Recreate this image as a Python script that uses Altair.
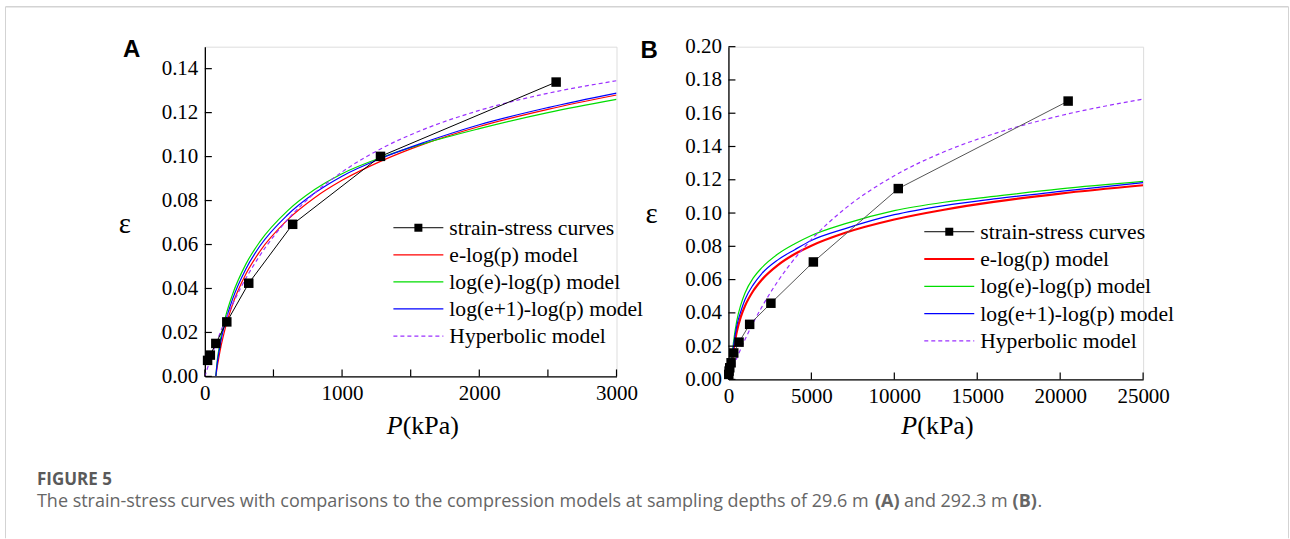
import altair as alt
import pandas as pd

# ---------------- Panel A (29.6 m) ----------------
A_p = [20, 40, 80, 160, 320, 640, 1280, 2560]
A_eps = [0.0073, 0.0097, 0.0150, 0.0248, 0.0424, 0.0692, 0.1001, 0.1339]

A_model_p = [80, 90, 100, 120, 150, 200, 300, 400, 600, 800, 1000, 1300, 1600, 2000, 2500, 3000]
A_elogp = [0, 0.0042, 0.0079, 0.0143, 0.0222, 0.0324, 0.0467, 0.0568, 0.0711, 0.0813, 0.0892, 0.0984, 0.1058, 0.1137, 0.1215, 0.1280]
A_logelogp = [0, 0.0070, 0.0115, 0.0190, 0.0270, 0.0370, 0.0512, 0.0612, 0.0752, 0.0850, 0.0922, 0.0999, 0.1060, 0.1127, 0.1200, 0.1260]
A_loge1logp = [0, 0.0058, 0.0100, 0.0170, 0.0248, 0.0348, 0.0490, 0.0592, 0.0733, 0.0834, 0.0911, 0.0996, 0.1065, 0.1145, 0.1223, 0.1289]
A_hyp_p = [0, 20, 50, 100, 200, 300, 400, 600, 800, 1000, 1300, 1600, 2000, 2500, 3000]
A_hyp = [0, 0.0039, 0.0095, 0.0180, 0.0326, 0.0447, 0.0549, 0.0711, 0.0834, 0.0930, 0.1041, 0.1125, 0.1210, 0.1288, 0.1345]

A_xticks = [0, 500, 1000, 1500, 2000, 2500, 3000]
A_xlabels = [0, 1000, 2000, 3000]
A_yticks = [0, 0.02, 0.04, 0.06, 0.08, 0.10, 0.12, 0.14]

# ---------------- Panel B (292.3 m) ----------------
B_p = [20, 40, 80, 160, 320, 640, 1280, 2560, 5120, 10240, 20480]
B_eps = [0.003, 0.005, 0.007, 0.010, 0.0159, 0.0224, 0.0331, 0.0458, 0.0706, 0.1147, 0.1673]

B_elogp_p = [141, 160, 200, 300, 500, 750, 1000, 1500, 2000, 3000, 4000, 5000, 7000, 10000, 13000, 16000, 20000, 25000]
B_elogp = [0, 0.0029, 0.0079, 0.0170, 0.0285, 0.0377, 0.0442, 0.0533, 0.0598, 0.0689, 0.0754, 0.0804, 0.0880, 0.0961, 0.1020, 0.1067, 0.1117, 0.1167]
B_logelogp_p = [120, 160, 200, 300, 500, 750, 1000, 1500, 2000, 3000, 4000, 5000, 7000, 10000, 13000, 16000, 20000, 25000]
B_logelogp = [0, 0.0075, 0.0125, 0.0220, 0.0350, 0.0450, 0.0520, 0.0610, 0.0670, 0.0755, 0.0815, 0.0865, 0.0935, 0.1015, 0.1065, 0.1100, 0.1145, 0.1190]
B_loge1logp_p = [130, 160, 200, 300, 500, 750, 1000, 1500, 2000, 3000, 4000, 5000, 7000, 10000, 13000, 16000, 20000, 25000]
B_loge1logp = [0, 0.0050, 0.0100, 0.0195, 0.0320, 0.0410, 0.0480, 0.0570, 0.0635, 0.0720, 0.0780, 0.0835, 0.0905, 0.0990, 0.1045, 0.1085, 0.1130, 0.1183]
B_hyp_p = [0, 500, 1000, 2000, 3000, 4000, 5000, 7000, 10000, 13000, 16000, 20000, 25000]
B_hyp = [0, 0.0127, 0.0240, 0.0433, 0.0593, 0.0727, 0.0841, 0.1024, 0.1224, 0.1368, 0.1476, 0.1585, 0.1685]

B_xticks = [0, 5000, 10000, 15000, 20000, 25000]
B_xlabels = [0, 5000, 10000, 15000, 20000, 25000]
B_yticks = [0, 0.02, 0.04, 0.06, 0.08, 0.10, 0.12, 0.14, 0.16, 0.18, 0.20]

LEGEND_LABELS = ["strain-stress curves", "e-log(p) model", "log(e)-log(p) model",
                 "log(e+1)-log(p) model", "Hyperbolic model"]

FIG_LABEL = "FIGURE 5"
CAPTION = ["The strain-stress curves with comparisons to the compression models at sampling depths of 29.6 m",
           "(A)", "and 292.3 m", "(B)", "."]

SERIF = "Liberation Serif"
RED, GREEN, BLUE, PURPLE = "#ff0000", "#00dd00", "#0000ff", "#9b30ff"


def txt(s, x, y, **kw):
    return alt.Chart(pd.DataFrame({"t": [s]})).mark_text(**kw).encode(
        x=alt.value(x), y=alt.value(y), text="t:N")


def panel(letter, pts_p, pts_e, curves, xdom, ydom, W, H, xticks, xlabels, yticks,
          data_color, leg, titles, extra):
    xs = alt.Scale(domain=xdom, nice=False, zero=False)
    ys = alt.Scale(domain=ydom, nice=False, zero=False)
    base_axis = dict(grid=False, ticks=False, tickSize=0, title=None, labelFont=SERIF,
                     labelFontSize=21, labelColor="black", domainColor="black",
                     domainWidth=1.3, labelOverlap=False, labelFlush=False)
    xax = alt.Axis(values=xlabels, format="d", labelPadding=6, **base_axis)
    yax = alt.Axis(values=yticks, format=".2f", labelPadding=7, **base_axis)

    def X(f):
        return alt.X(f, scale=xs, axis=xax)

    def Y(f):
        return alt.Y(f, scale=ys, axis=yax)

    layers = []
    for (px, ey, color, width, dash) in curves:
        df = pd.DataFrame({"p": px, "e": ey})
        kw = dict(color=color, strokeWidth=width, interpolate="monotone", clip=True)
        if dash:
            kw["strokeDash"] = dash
        layers.append(alt.Chart(df).mark_line(**kw).encode(x=X("p:Q"), y=Y("e:Q")))
    dpts = pd.DataFrame({"p": pts_p, "e": pts_e})
    layers.append(alt.Chart(dpts).mark_line(color=data_color, strokeWidth=1).encode(
        x=X("p:Q"), y=Y("e:Q")))
    layers.append(alt.Chart(dpts).mark_square(size=90, color="black", opacity=1).encode(
        x=X("p:Q"), y=Y("e:Q")))
    # inward ticks
    layers.append(alt.Chart(pd.DataFrame({"p": xticks})).mark_rule(color="black", strokeWidth=1.2).encode(
        x=X("p:Q"), y=alt.value(H), y2=alt.value(H - 7)))
    layers.append(alt.Chart(pd.DataFrame({"e": yticks})).mark_rule(color="black", strokeWidth=1.2).encode(
        y=Y("e:Q"), x=alt.value(0), x2=alt.value(7)))
    # legend
    lx, ly, dy = leg
    styles = [("black", 1, None), (RED, curves[0][3], None), (GREEN, 1.2, None),
              (BLUE, 1.2, None), (PURPLE, 1.2, [4, 3])]
    for i, (lab, (c, w, d)) in enumerate(zip(LEGEND_LABELS, styles)):
        y = ly + i * dy
        kw = dict(color=c, strokeWidth=w)
        if d:
            kw["strokeDash"] = d
        layers.append(alt.Chart(pd.DataFrame({"t": [lab]})).mark_rule(**kw).encode(
            x=alt.value(lx), x2=alt.value(lx + 50), y=alt.value(y)))
        if i == 0:
            layers.append(alt.Chart(pd.DataFrame({"t": [lab]})).mark_square(
                size=64, color="black", opacity=1).encode(x=alt.value(lx + 25), y=alt.value(y)))
        layers.append(txt(lab, lx + 56, y + 1, font=SERIF, fontSize=21.6, align="left",
                          baseline="middle", color="black"))
    (px0, pby), (ex, ey_), (lxl, lyl) = titles
    layers.append(txt("P", px0, pby, font=SERIF, fontSize=26, fontStyle="italic",
                      align="left", baseline="alphabetic", color="black"))
    layers.append(txt("(kPa)", px0 + 16, pby, font=SERIF, fontSize=26,
                      align="left", baseline="alphabetic", color="black"))
    layers.append(txt("ε", ex, ey_, font=SERIF, fontSize=29, align="center",
                      baseline="middle", color="black"))
    layers.append(txt(letter, lxl, lyl, font="Liberation Sans", fontSize=24, fontWeight="bold",
                      align="left", baseline="alphabetic", color="black"))
    layers.extend(extra)
    return alt.layer(*layers).properties(width=W, height=H)


frame_color = "#d3d3d3"
extra_A = [
    alt.Chart(pd.DataFrame({"t": ["frame"]})).mark_rule(color=frame_color, strokeWidth=1).encode(
        x=alt.value(-199.5), y=alt.value(-40), y2=alt.value(492)),
    alt.Chart(pd.DataFrame({"t": ["frame"]})).mark_rule(color=frame_color, strokeWidth=1).encode(
        x=alt.value(1084.5), y=alt.value(-40), y2=alt.value(492)),
    alt.Chart(pd.DataFrame({"t": ["frame"]})).mark_rule(color=frame_color, strokeWidth=1.5).encode(
        x=alt.value(-199.5), x2=alt.value(1084.5), y=alt.value(-40)),
    txt(FIG_LABEL, -168, 439, font="Open Sans", fontSize=17, fontWeight="bold",
        align="left", baseline="alphabetic", color="#5a5a5a"),
]
cap_x = [-168, 670.6, 699.6, 808.4, 833.2]
cap_bold = [False, True, False, True, False]
for s, x, b in zip(CAPTION, cap_x, cap_bold):
    extra_A.append(txt(s, x, 461, font="Open Sans", fontSize=18,
                       fontWeight="bold" if b else "normal",
                       align="left", baseline="alphabetic", color="#666666"))

curves_A = [(A_model_p, A_elogp, RED, 1.2, None),
            (A_model_p, A_logelogp, GREEN, 1.2, None),
            (A_model_p, A_loge1logp, BLUE, 1.2, None),
            (A_hyp_p, A_hyp, PURPLE, 1.2, [4, 3])]
curves_B = [(B_elogp_p, B_elogp, RED, 2.2, None),
            (B_logelogp_p, B_logelogp, GREEN, 1.2, None),
            (B_loge1logp_p, B_loge1logp, BLUE, 1.2, None),
            (B_hyp_p, B_hyp, PURPLE, 1.2, [4, 3])]

chartA = panel("A", A_p, A_eps, curves_A, [0, 3000], [0, 0.15], 412, 330,
               A_xticks, A_xlabels, A_yticks, "black",
               (188.7, 181.2, 27.1), ((182, 388), (-80, 177), (-82, 10)), extra_A)
chartB = panel("B", B_p, B_eps, curves_B, [0, 25000], [0, 0.20], 415, 333,
               B_xticks, B_xlabels, B_yticks, "#555555",
               (196, 185.2, 27.3), ((173, 388), (-77, 167), (-88, 11)), [])

chart = alt.hconcat(chartA, chartB, spacing=112, bounds="flush").properties(
    padding={"left": 4, "top": 4.5, "right": 0, "bottom": 0}
).configure_view(stroke=None).configure(background="white")

chart.save("out.html", embed_options={"renderer": "svg", "actions": False})
